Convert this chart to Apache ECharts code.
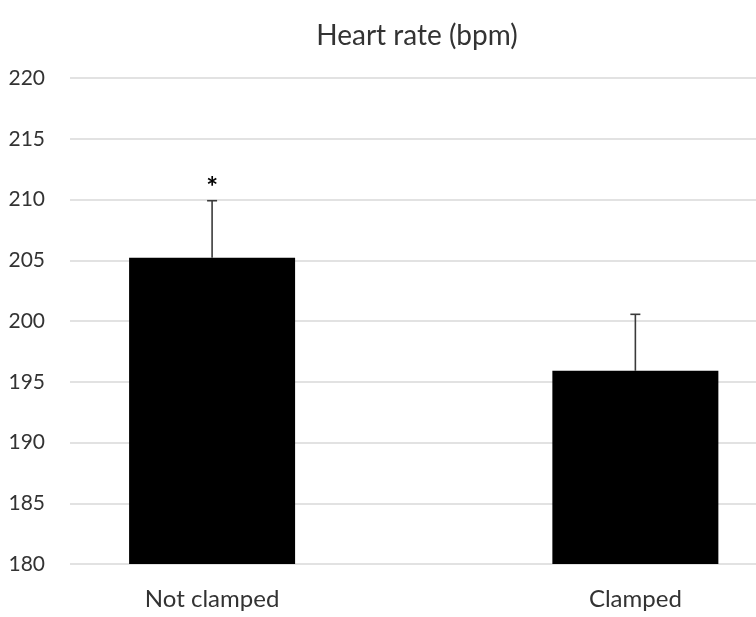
<!DOCTYPE html>
<html>
<head>
<meta charset="utf-8">
<script src="https://cdn.jsdelivr.net/npm/echarts@6/dist/echarts.min.js"></script>
<style>html,body{margin:0;padding:0;background:#fff}#c{width:756px;height:617px}</style>
</head>
<body>
<div id="c"></div>
<script>
var categories = ["Not clamped", "Clamped"];
var heartRate = [205.2, 195.9];
var errorSD = [4.7, 4.65];
var annotations = ["*", ""];
var yTicks = {min: 180, max: 220, step: 5};
var titleText = "Heart rate (bpm)";

var FONT = "Lato";
var chart = echarts.init(document.getElementById('c'), null, {renderer: 'canvas'});

var barData = categories.map(function (c, i) { return [i, heartRate[i]]; });
var errData = categories.map(function (c, i) { return [i, heartRate[i], errorSD[i]]; });
var catIndex = categories.map(function (c, i) { return i; });

chart.setOption({
  animation: false,
  backgroundColor: '#ffffff',
  title: {
    text: titleText, left: 412, top: 17, textAlign: 'center',
    textStyle: {fontFamily: FONT, fontSize: 28, fontWeight: 'normal', color: '#333333'}
  },
  grid: {left: 70, right: 0, top: 78, bottom: 53},
  xAxis: {
    type: 'value', min: -0.3357, max: 1.285,
    axisLine: {show: false}, axisTick: {show: false}, splitLine: {show: false},
    axisLabel: {
      customValues: catIndex, margin: 23, fontFamily: FONT, fontSize: 24, color: '#333333',
      formatter: function (v) { return categories[Math.round(v)] || ''; }
    }
  },
  yAxis: {
    type: 'value', min: yTicks.min, max: yTicks.max, interval: yTicks.step,
    axisLine: {show: false}, axisTick: {show: false},
    axisLabel: {margin: 25, fontFamily: FONT, fontSize: 21, color: '#333333'},
    splitLine: {lineStyle: {color: '#d9d9d9', width: 1.5}}
  },
  series: [
    {type: 'bar', data: barData, barWidth: 166, itemStyle: {color: '#000000'}, z: 3},
    {type: 'custom', data: errData, z: 4,
     renderItem: function (params, api) {
       var x = api.value(0), m = api.value(1), e = api.value(2);
       var note = annotations[params.dataIndex];
       var p0 = api.coord([x, m]);
       var p1 = api.coord([x, m + e]);
       var cap = 5;
       var style = {stroke: '#3a3a3a', lineWidth: 1.6};
       var children = [
         {type: 'line', shape: {x1: p0[0], y1: p0[1], x2: p1[0], y2: p1[1]}, style: style},
         {type: 'line', shape: {x1: p1[0] - cap, y1: p1[1], x2: p1[0] + cap, y2: p1[1]}, style: style}
       ];
       if (note) {
         children.push({type: 'text', x: p1[0], y: p1[1] + 1,
           style: {text: note, fontFamily: FONT, fontSize: 28, fontWeight: 'bold', fill: '#000',
                   align: 'center', verticalAlign: 'bottom'}});
       }
       return {type: 'group', children: children};
     }}
  ]
});
</script>
</body>
</html>
